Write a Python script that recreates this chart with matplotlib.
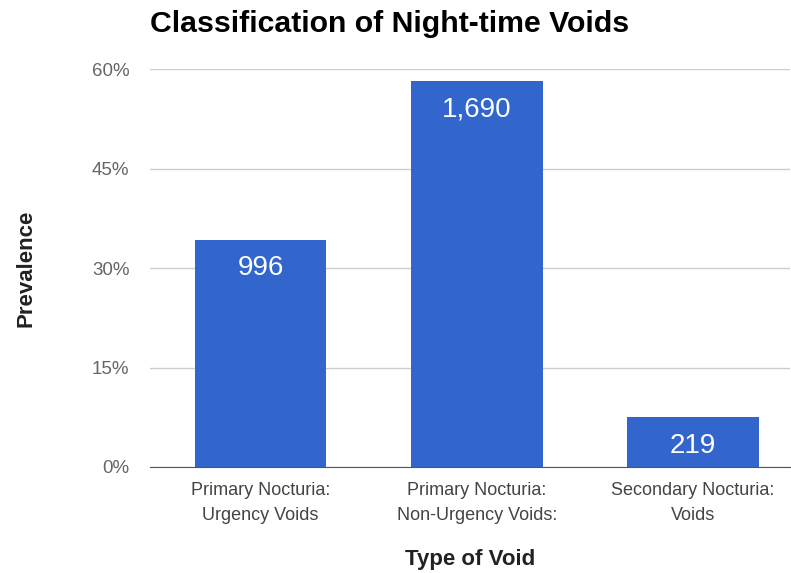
import matplotlib.pyplot as plt
from matplotlib.ticker import FuncFormatter

plt.rcParams['font.family'] = ['Liberation Sans', 'DejaVu Sans']

categorias = ['Primary Nocturia:\nUrgency Voids',
              'Primary Nocturia:\nNon-Urgency Voids:',
              'Secondary Nocturia:\nVoids']
prevalencia = [34.3, 58.2, 7.5]
etiquetas = ['996', '1,690', '219']
yticks = [0, 15, 30, 45, 60]

fig = plt.figure(figsize=(7.91, 5.73), dpi=100)
ax = fig.add_axes([0.19, 0.185, 0.809, 0.6944])

x = list(range(len(categorias)))
barras = ax.bar(x, prevalencia, width=0.61, color='#3366cc', zorder=3)

for b, txt in zip(barras, etiquetas):
    ax.annotate(txt, (b.get_x() + b.get_width() / 2, b.get_height()),
                xytext=(0, -11), textcoords='offset points',
                ha='center', va='top', color='white', fontsize=20)

ax.set_xlim(-0.51, 2.45)
ax.set_ylim(0, 60)
ax.set_yticks(yticks)
ax.yaxis.set_major_formatter(FuncFormatter(lambda v, p: f'{v:.0f}%'))
ax.set_xticks(x)
ax.set_xticklabels(categorias, fontsize=13, color='#444444', linespacing=1.6)
ax.tick_params(axis='y', labelsize=13.5, labelcolor='#666666', length=0, pad=15)
ax.tick_params(axis='x', length=0, pad=11)

ax.grid(axis='y', color='#cccccc', linewidth=1, zorder=0)
for s in ['top', 'right', 'left']:
    ax.spines[s].set_visible(False)
ax.spines['bottom'].set_color('#555555')
ax.spines['bottom'].set_zorder(4)

ax.set_ylabel('Prevalence', fontsize=16, fontweight='bold', color='#222222', labelpad=40)
ax.set_xlabel('Type of Void', fontsize=16, fontweight='bold', color='#222222', labelpad=18)
fig.text(0.19, 0.958, 'Classification of Night-time Voids', fontsize=21.8,
         fontweight='bold', color='#000000', ha='left', va='center')

plt.savefig('out.png', dpi=100)
